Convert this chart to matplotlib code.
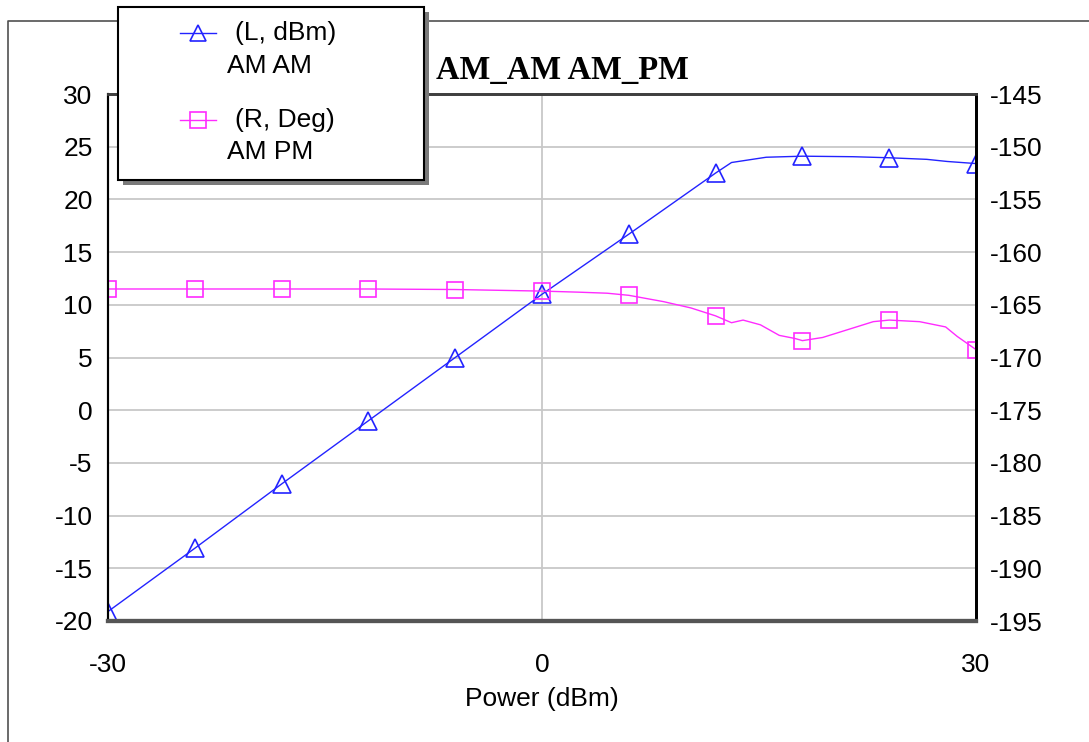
import matplotlib
matplotlib.use('Agg')
import matplotlib.pyplot as plt
from matplotlib.patches import Rectangle
from matplotlib.lines import Line2D
import numpy as np

plt.rcParams['font.family'] = ['Liberation Sans', 'DejaVu Sans']
plt.rcParams['axes.unicode_minus'] = False

# ---- data ----
# AM-AM (left axis, dBm)
am_x = [-30, -24, -18, -12, -6, 0, 6, 9, 12, 13.1, 15.5, 18, 21.5, 24, 26.6, 28, 30]
am_y = [-19.1, -13.1, -7.0, -1.0, 5.0, 11.0, 16.7, 19.6, 22.5, 23.5, 24.0, 24.1,
        24.05, 23.95, 23.8, 23.6, 23.4]
# AM-PM (right axis, deg)
pm_x = [-30, -24, -18, -12, -6, 0, 2.5, 4.5, 6, 8.4, 10.3, 12, 13.1, 13.9, 15.1,
        16.4, 17.5, 18, 19.4, 21.5, 22.9, 24, 26.1, 27.9, 28.7, 30]
pm_y = [-163.5, -163.5, -163.5, -163.5, -163.55, -163.7, -163.8, -163.9, -164.1,
        -164.7, -165.3, -166.05, -166.7, -166.45, -166.9, -167.9, -168.2, -168.4,
        -168.1, -167.2, -166.6, -166.45, -166.6, -167.1, -168.0, -169.25]
marker_x = [-30, -24, -18, -12, -6, 0, 6, 12, 18, 24, 30]

BLUE = '#2323ff'
PINK = '#ff2bff'
W, H = 1089, 742
FS = 19

def px(x, y):
    return x / W, 1 - y / H

fig = plt.figure(figsize=(W / 100, H / 100), dpi=100)
fig.patch.set_facecolor('white')
ax = fig.add_axes([108 / W, 1 - 621 / H, (976 - 108) / W, (621 - 94) / H])
ax2 = ax.twinx()

am_x = np.array(am_x); am_y = np.array(am_y)
pm_x = np.array(pm_x); pm_y = np.array(pm_y)
am_mk = [i for i, v in enumerate(am_x) if v in marker_x]
pm_mk = [i for i, v in enumerate(pm_x) if v in marker_x]

ax.plot(am_x, am_y, color=BLUE, lw=1.0, marker='^', markersize=13,
        markerfacecolor='none', markeredgecolor=BLUE, markeredgewidth=1.2,
        markevery=am_mk)
ax2.plot(pm_x, pm_y, color=PINK, lw=1.0, marker='s', markersize=11.5,
         markerfacecolor='none', markeredgecolor=PINK, markeredgewidth=1.2,
         markevery=pm_mk)

ax.set_xlim(-30, 30)
ax.set_ylim(-20, 30)
ax2.set_ylim(-195, -145)
ax.set_xticks([-30, 0, 30])
ax.set_yticks(range(-20, 31, 5))
ax2.set_yticks(range(-195, -144, 5))
ax.grid(True, color='#c8c8c8', lw=1.3)
ax.set_axisbelow(True)

ax.tick_params(axis='y', length=0, labelsize=FS, pad=11)
ax.tick_params(axis='x', length=0, labelsize=FS, pad=23)
ax2.tick_params(axis='y', length=0, labelsize=FS, pad=10)
ax.set_xlabel('Power (dBm)', fontsize=FS, labelpad=7)

for a in (ax, ax2):
    a.spines['left'].set_color('black'); a.spines['left'].set_linewidth(1.5)
    a.spines['right'].set_color('black'); a.spines['right'].set_linewidth(2)
    a.spines['top'].set_color('#404040'); a.spines['top'].set_linewidth(2)
    a.spines['bottom'].set_color('#555555'); a.spines['bottom'].set_linewidth(3)

# outer frame
fx, fy = zip(px(8, 742), px(8, 21), px(1089, 21))
fig.add_artist(Line2D(fx, fy, color='#505050', lw=1.2))

# title
fig.text(*px(562, 70), 'AM_AM AM_PM', family=['Liberation Serif', 'DejaVu Serif'],
         fontsize=23.5, fontweight='bold', ha='center', va='center')

# legend box with shadow
bx0, by0 = px(118, 180)
bw, bh = (424 - 118) / W, (180 - 7) / H
sx, sy = px(123, 185)
fig.add_artist(Rectangle((sx, sy), bw, bh, transform=fig.transFigure,
                         facecolor='#7a7a7a', edgecolor='none', zorder=5))
fig.add_artist(Rectangle((bx0, by0), bw, bh, transform=fig.transFigure,
                         facecolor='white', edgecolor='black', lw=1.5, zorder=6))

lx, ly = zip(px(180, 33), px(216, 33))
fig.add_artist(Line2D(lx, ly, color=BLUE, lw=1.0, zorder=7))
fig.add_artist(Line2D([px(198, 33)[0]], [px(198, 33)[1]], color=BLUE, marker='^',
                      markersize=12, markerfacecolor='none', markeredgewidth=1.2, zorder=7))
lx, ly = zip(px(180, 120), px(216, 120))
fig.add_artist(Line2D(lx, ly, color=PINK, lw=1.0, zorder=7))
fig.add_artist(Line2D([px(198, 120)[0]], [px(198, 120)[1]], color=PINK, marker='s',
                      markersize=11, markerfacecolor='none', markeredgewidth=1.2, zorder=7))

fig.text(*px(235, 33), '(L, dBm)', fontsize=FS, va='center', ha='left', zorder=8)
fig.text(*px(227, 66), 'AM AM', fontsize=FS, va='center', ha='left', zorder=8)
fig.text(*px(235, 120), '(R, Deg)', fontsize=FS, va='center', ha='left', zorder=8)
fig.text(*px(227, 152), 'AM PM', fontsize=FS, va='center', ha='left', zorder=8)

fig.savefig('out.png', dpi=100, facecolor='white')
